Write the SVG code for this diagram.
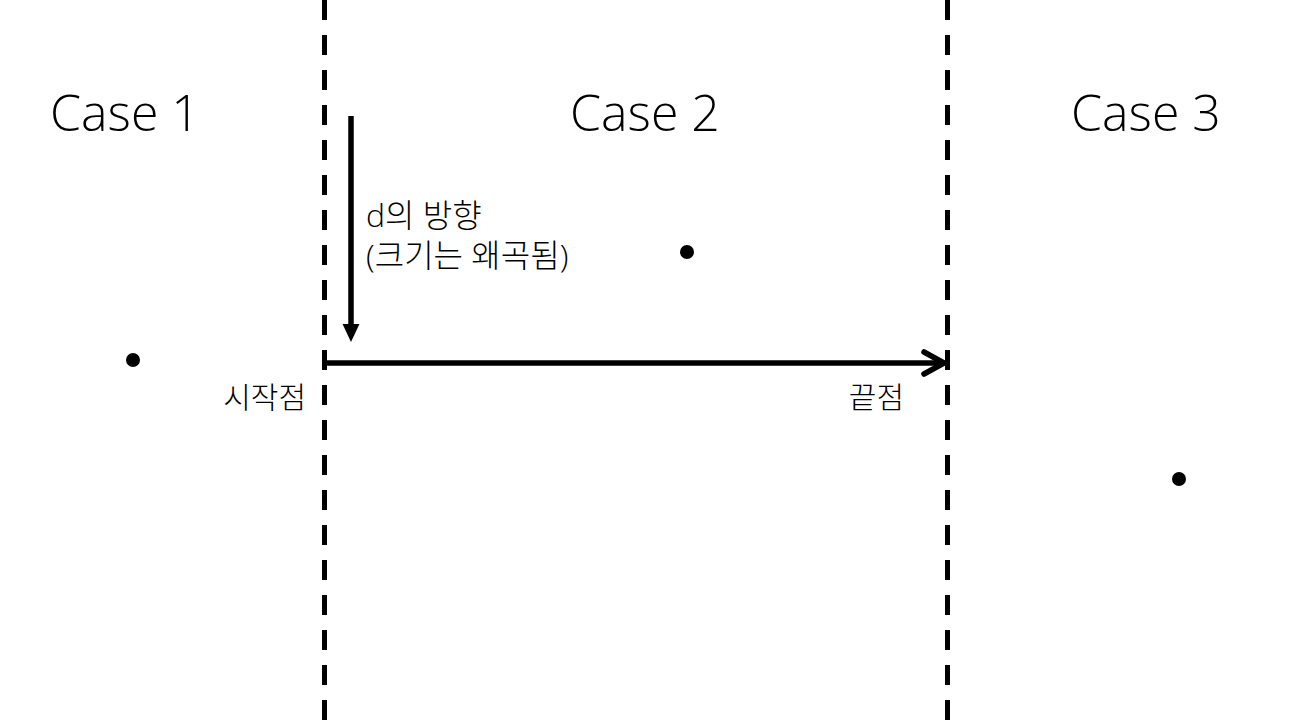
<svg xmlns="http://www.w3.org/2000/svg" width="1308" height="726" viewBox="0 0 1308 726">
<style>
.t{font-family:"Open Sans","Noto Sans CJK KR",sans-serif;font-weight:300;fill:#000}
.big{font-size:50px}
.sm{font-size:30px}
.md{font-size:32px}
.dash{stroke:#000;stroke-width:5;stroke-dasharray:20 15;fill:none}
</style>
<defs>
<marker id="tri" viewBox="0 0 10 10" refX="0" refY="5" markerWidth="18" markerHeight="18" markerUnits="userSpaceOnUse" orient="auto">
<path d="M0,0.3 L10,5 L0,9.7 Z" fill="#000"/>
</marker>
</defs>
<rect width="1308" height="726" fill="#fff"/>
<g id="dividers">
<line class="dash" x1="324.5" y1="0" x2="324.5" y2="726"/>
<line class="dash" x1="947.5" y1="0" x2="947.5" y2="726"/>
</g>
<g id="labels">
<text class="t big" x="125" y="131" text-anchor="middle">Case 1</text>
<text class="t big" x="645" y="131" text-anchor="middle">Case 2</text>
<text class="t big" x="1146" y="131" text-anchor="middle">Case 3</text>
</g>
<g id="connectors">
<line x1="351" y1="116" x2="351" y2="324" stroke="#000" stroke-width="5.5" marker-end="url(#tri)"/>
<line x1="324" y1="363" x2="943" y2="363" stroke="#000" stroke-width="5.5"/>
<polyline points="924,352 944,363 924,374" fill="none" stroke="#000" stroke-width="5.5" stroke-linecap="round" stroke-linejoin="round"/>
</g>
<g id="d-label">
<text class="t md" x="366" y="227">d의 방향</text>
<text class="t md" x="366" y="267">(크기는 왜곡됨)</text>
</g>
<g id="start"><text class="t sm" x="306" y="408" text-anchor="end">시작점</text></g>
<g id="end"><text class="t sm" x="904" y="408" text-anchor="end">끝점</text></g>
<g id="points">
<circle cx="133" cy="360" r="7"/>
<circle cx="687" cy="252" r="7"/>
<circle cx="1179" cy="479" r="7"/>
</g>
</svg>
